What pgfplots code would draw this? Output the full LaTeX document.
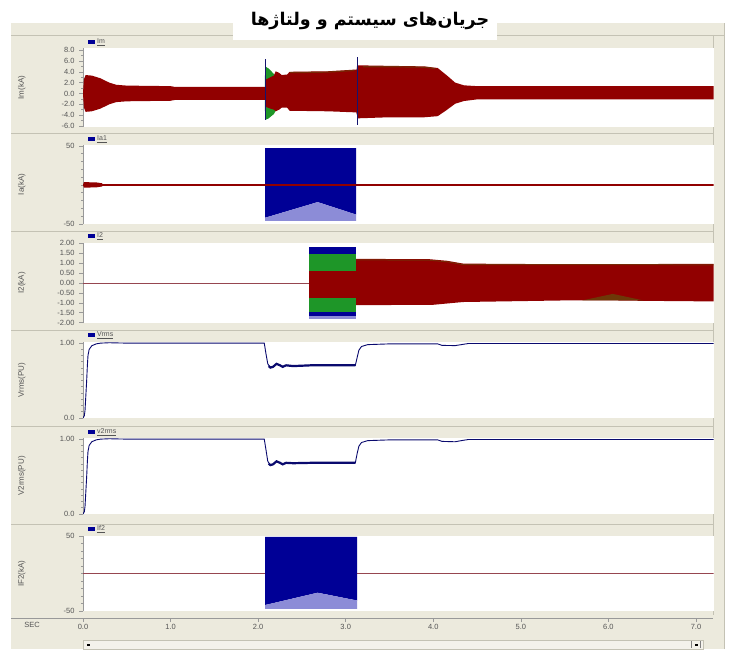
\documentclass[border=0pt]{standalone}
\usepackage{fontspec}
\setmainfont{Liberation Sans}
\newfontfamily\arabicfont[Script=Arabic]{DejaVu Sans}
\usepackage{pgfplots}
\pgfplotsset{compat=1.18}
\TeXXeTstate=1
\definecolor{frame}{RGB}{236,234,221}
\definecolor{sep}{RGB}{196,194,180}
\definecolor{lab}{RGB}{85,85,85}
\definecolor{dred}{RGB}{145,0,0}
\definecolor{lred}{RGB}{150,70,80}
\definecolor{dgreen}{RGB}{30,150,40}
\definecolor{dblue}{RGB}{0,0,150}
\definecolor{hblue}{RGB}{140,140,215}
\definecolor{olivex}{RGB}{100,70,10}
\definecolor{vline}{RGB}{20,20,110}
\definecolor{navyl}{RGB}{10,10,110}
\pgfplotsset{
 ps/.style={scale only axis, width=630.5pt, xmin=0, xmax=7.2,
   axis x line=none, axis y line*=left,
   axis line style={draw=gray!80, line width=0.6pt},
   axis background/.style={fill=white},
   tick align=outside, major tick length=4pt, minor tick length=2pt,
   every tick/.style={gray!80, line width=0.5pt},
   yticklabel style={font=\fontsize{7.5}{8}\selectfont, text=lab, xshift=-1pt},
   every axis y label/.style={at={(axis description cs:-0.097,0.5)}, rotate=90, anchor=center, font=\fontsize{8}{9}\selectfont, text=lab},
   anchor=north west,
   /pgf/number format/assume math mode=true,
 }
}
\newcommand{\leg}[2]{\fill[dblue] (88pt,#1pt-1.8pt) rectangle (95pt,#1pt+1.8pt);
  \node[anchor=west, font=\fontsize{7}{8}\selectfont, text=lab, inner sep=1pt] at (96pt,#1pt) {\underline{#2}};}
\begin{document}
\begin{tikzpicture}
\useasboundingbox (0,0) rectangle (743pt,651pt);
\fill[white] (0,0) rectangle (743pt,651pt);
% frame
\fill[frame] (11pt,2pt) rectangle (724pt,628pt);
\fill[white] (233pt,611pt) rectangle (497pt,651pt);
\foreach \y in {518,420,321,225,127} {\draw[sep, line width=0.6pt] (11pt,\y pt) -- (713pt,\y pt);}
\draw[sep, line width=0.6pt] (11pt,616pt) -- (233pt,616pt);
\draw[sep, line width=0.6pt] (497pt,616pt) -- (724pt,616pt);
\draw[sep, line width=0.6pt] (713pt,616pt) -- (713pt,36pt);
\draw[sep, line width=0.6pt] (724pt,2pt) -- (724pt,628pt);
% title
\node[font={\arabicfont\bfseries\fontsize{17.5}{20}\selectfont}] at (370pt,630pt) {\beginR جریان‌های سیستم و ولتاژها\endR};

% Panel 1
\begin{axis}[ps, at={(83pt,603pt)}, height=79pt, ymin=-6.2, ymax=8.4,
  ytick={-6,-4,-2,0,2,4,6,8}, yticklabels={-6.0,-4.0,-2.0,0.0,2.0,4.0,6.0,8.0},
  minor y tick num=1, ylabel={Im(kA)}]
\addplot[fill=dgreen, draw=none] coordinates {(2.075,0)(2.08,5.0)(2.12,4.6)(2.18,3.6)(2.2,3.0)(2.2,-3.2)(2.18,-3.8)(2.12,-4.6)(2.08,-4.9)};
\addplot[fill=dred, draw=none] coordinates {(0,0)(0.01,2.6)(0.03,3.4)(0.1,3.3)(0.2,2.8)(0.3,2.0)(0.38,1.6)(0.5,1.45)(1.0,1.35)(1.05,1.2)(2.08,1.2)(2.09,2.6)(2.14,3.0)(2.18,3.3)(2.2,4.1)(2.24,3.8)(2.27,3.4)(2.33,3.5)(2.36,4.0)(2.8,4.1)(3.1,4.4)(3.125,4.4)(3.13,5.2)(3.5,5.1)(3.9,5.0)(4.05,4.7)(4.15,3.4)(4.25,2.0)(4.35,1.5)(4.5,1.35)(7.2,1.35)
(7.2,-1.1)(4.5,-1.1)(4.35,-1.4)(4.25,-1.9)(4.15,-3.1)(4.05,-4.2)(3.9,-4.4)(3.5,-4.4)(3.135,-4.6)(3.13,-4.0)(3.12,-3.5)(2.8,-3.3)(2.36,-3.2)(2.33,-2.6)(2.27,-2.6)(2.24,-3.0)(2.2,-3.3)(2.18,-3.0)(2.14,-2.8)(2.09,-2.5)(2.08,-1.2)(1.05,-1.2)(1.0,-1.35)(0.5,-1.45)(0.38,-1.6)(0.3,-2.0)(0.2,-2.8)(0.1,-3.3)(0.03,-3.4)(0.01,-2.6)(0,0)};
\addplot[olivex, line width=1.2pt, opacity=0.6] coordinates {(2.36,3.85)(2.8,3.95)(3.1,4.25)};
\addplot[olivex, line width=1.2pt, opacity=0.6] coordinates {(3.2,4.95)(3.5,4.95)(3.9,4.85)(4.02,4.6)};
\addplot[vline, line width=0.9pt] coordinates {(2.08,-4.9)(2.08,6.3)};
\addplot[vline, line width=0.9pt] coordinates {(3.13,-5.8)(3.13,6.7)};
\end{axis}

% Panel 2
\begin{axis}[ps, at={(83pt,506pt)}, height=79pt, ymin=-50, ymax=51,
  ytick={-50,50}, yticklabels={-50,50}, minor ytick={-40,-30,-20,-10,0,10,20,30,40}, ylabel={Ia(kA)}]
\addplot[fill=dred, draw=none] coordinates {(0,0)(0.01,3.5)(0.15,3.2)(0.22,2)(0.22,-2)(0.15,-3.2)(0.01,-3.5)};
\addplot[dred, line width=2.2pt] coordinates {(0,0)(4.35,0)};
\addplot[dred, line width=1.6pt] coordinates {(4.35,0)(7.2,0)};
\addplot[fill=dblue, draw=none] coordinates {(2.08,47)(3.12,47)(3.12,-38)(2.68,-22)(2.08,-42)};
\addplot[fill=hblue, draw=none] coordinates {(2.08,-42)(2.68,-22)(3.12,-38)(3.12,-46)(2.08,-46)};
\addplot[dred, line width=2.2pt] coordinates {(2.08,0)(3.12,0)};
\end{axis}

% Panel 3
\begin{axis}[ps, at={(83pt,408pt)}, height=80pt, ymin=-2.02, ymax=2.02,
  ytick={-2,-1.5,-1,-0.5,0,0.5,1,1.5,2}, yticklabels={-2.00,-1.50,-1.00,-0.50,0.00,0.50,1.00,1.50,2.00},
  ylabel={I2(kA)}]
\addplot[lred, line width=0.8pt] coordinates {(0,0)(2.58,0)};
\addplot[fill=dblue, draw=none] coordinates {(2.58,1.8)(3.12,1.8)(3.12,-1.8)(2.58,-1.8)};
\addplot[fill=hblue, draw=none] coordinates {(2.58,-1.65)(3.12,-1.65)(3.12,-1.8)(2.58,-1.8)};
\addplot[fill=dgreen, draw=none] coordinates {(2.58,1.45)(3.12,1.45)(3.12,-1.45)(2.58,-1.45)};
\addplot[fill=dred, draw=none] coordinates {(2.58,0.6)(3.12,0.6)(3.12,-0.75)(2.58,-0.75)};
\addplot[fill=dred, draw=none] coordinates {(3.12,1.22)(3.96,1.2)(4.16,1.12)(4.34,0.98)(5.0,0.96)(6.0,0.95)(7.2,0.97)
(7.2,-0.93)(6.4,-0.9)(6.05,-0.88)(5.5,-0.88)(4.34,-0.96)(4.0,-1.1)(3.12,-1.12)};
\addplot[fill=olivex, draw=none, opacity=0.8] coordinates {(5.7,-0.88)(6.05,-0.55)(6.4,-0.88)};
\addplot[olivex, line width=1pt, opacity=0.6] coordinates {(3.12,1.17)(3.96,1.15)(4.16,1.07)(4.34,0.93)(7.2,0.92)};
\end{axis}

% Panel 4
\begin{axis}[ps, at={(83pt,309pt)}, height=76pt, ymin=0, ymax=1.01,
  ytick={0,1}, yticklabels={0.0,1.00}, minor y tick num=11, ylabel={Vrms(PU)}]
\addplot[navyl, line width=0.9pt] coordinates {(0,0)(0.015,0.03)(0.023,0.1)(0.035,0.35)(0.042,0.5)(0.05,0.7)(0.057,0.83)(0.07,0.91)(0.1,0.96)(0.15,0.985)(0.2,0.995)(0.3,1.0)(0.5,0.995)(2.07,0.995)(2.09,0.85)(2.11,0.72)(2.14,0.67)(2.17,0.68)(2.21,0.72)(2.25,0.7)(2.28,0.68)(2.32,0.70)(2.4,0.69)(2.6,0.70)(3.11,0.70)(3.13,0.8)(3.15,0.9)(3.18,0.95)(3.25,0.975)(3.5,0.985)(4.05,0.985)(4.1,0.965)(4.25,0.962)(4.32,0.975)(4.4,0.99)(7.2,0.99)};
\addplot[navyl, line width=2.2pt] coordinates {(2.12,0.69)(2.14,0.67)(2.17,0.68)(2.21,0.72)(2.25,0.7)(2.28,0.68)(2.32,0.70)(2.4,0.69)(2.6,0.70)(3.11,0.70)};
\end{axis}

% Panel 5
\begin{axis}[ps, at={(83pt,213pt)}, height=76pt, ymin=0, ymax=1.01,
  ytick={0,1}, yticklabels={0.0,1.00}, minor y tick num=11, ylabel={V2rms(PU)}]
\addplot[navyl, line width=0.9pt] coordinates {(0,0)(0.015,0.03)(0.023,0.1)(0.035,0.35)(0.042,0.5)(0.05,0.7)(0.057,0.83)(0.07,0.91)(0.1,0.96)(0.15,0.985)(0.2,0.995)(0.3,1.0)(0.5,0.995)(2.07,0.995)(2.09,0.85)(2.11,0.70)(2.14,0.65)(2.17,0.66)(2.21,0.70)(2.25,0.68)(2.28,0.66)(2.32,0.68)(2.4,0.675)(2.6,0.68)(3.11,0.68)(3.13,0.8)(3.15,0.9)(3.18,0.95)(3.25,0.975)(3.5,0.985)(4.05,0.985)(4.1,0.965)(4.25,0.96)(4.32,0.975)(4.4,0.99)(7.2,0.99)};
\addplot[navyl, line width=2.2pt] coordinates {(2.12,0.67)(2.14,0.65)(2.17,0.66)(2.21,0.70)(2.25,0.68)(2.28,0.66)(2.32,0.68)(2.4,0.675)(2.6,0.68)(3.11,0.68)};
\end{axis}

% Panel 6
\begin{axis}[ps, at={(83pt,115pt)}, height=75pt, ymin=-50, ymax=50,
  ytick={-50,50}, yticklabels={-50,50}, minor ytick={-40,-30,-20,-10,0,10,20,30,40}, ylabel={IF2(kA)}]
\addplot[lred, line width=0.8pt] coordinates {(0,0)(7.2,0)};
\addplot[fill=dblue, draw=none] coordinates {(2.08,49)(3.13,49)(3.13,-36)(2.68,-25.6)(2.08,-42)};
\addplot[fill=hblue, draw=none] coordinates {(2.08,-42)(2.68,-25.6)(3.13,-36)(3.13,-47)(2.08,-47)};
\end{axis}

% x axis
\draw[gray!80, line width=0.6pt] (11pt,33pt) -- (713pt,33pt);
\begin{axis}[scale only axis, width=630.5pt, height=1pt, xmin=0, xmax=7.2, ymin=0, ymax=1,
  at={(83pt,33pt)}, anchor=south west,
  axis x line*=bottom, axis y line=none, x axis line style={draw=none},
  xtick={0,1,2,3,4,5,6,7}, xticklabels={0.0,1.0,2.0,3.0,4.0,5.0,6.0,7.0},
  tick align=outside, major tick length=4pt, every tick/.style={gray!80, line width=0.5pt},
  xticklabel style={font=\fontsize{7.5}{8}\selectfont, text=lab, yshift=1pt},
  /pgf/number format/assume math mode=true]
\end{axis}
\node[font=\fontsize{7.5}{8}\selectfont, text=lab] at (32pt,26pt) {SEC};
% legends
\leg{609}{Im}
\leg{512}{Ia1}
\leg{415}{I2}
\leg{316}{Vrms}
\leg{219}{v2rms}
\leg{122}{If2}
% scroll bar
\draw[sep, fill=frame!60!white] (83pt,2pt) rectangle (703pt,11pt);
\fill[black] (87pt,5.5pt) rectangle (89.5pt,7.5pt);
\fill[black] (695pt,5.5pt) rectangle (697.5pt,7.5pt);
\draw[gray] (691pt,3pt) -- (691pt,10pt);
\draw[gray] (700pt,3pt) -- (700pt,10pt);
\end{tikzpicture}
\end{document}
